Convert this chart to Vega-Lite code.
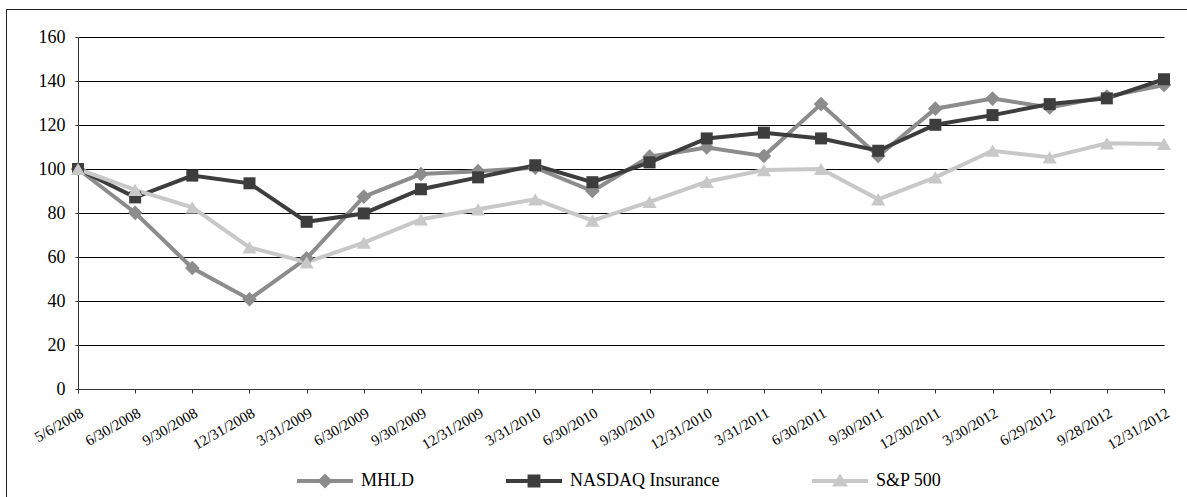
{
  "$schema": "https://vega.github.io/schema/vega-lite/v6.json",
  "width": 1181,
  "height": 488,
  "autosize": "none",
  "padding": {"left": 6, "top": 9, "right": 0, "bottom": 0},
  "background": "white",
  "config": {
    "view": {"stroke": "#222222", "strokeWidth": 1, "strokeDash": [1181, 1669, 488]},
    "font": "Liberation Serif, Times New Roman, DejaVu Serif, serif",
    "axis": {"labelFont": "Liberation Serif, Times New Roman, DejaVu Serif, serif", "labelColor": "#000000", "domainColor": "#333333", "tickColor": "#333333", "gridColor": "#000000", "gridOpacity": 1, "domainWidth": 1, "tickWidth": 1},
    "legend": {"labelFont": "Liberation Serif, Times New Roman, DejaVu Serif, serif"}
  },
  "data": {
    "values": [
      {"date": "5/6/2008", "series": "MHLD", "value": 100},
      {"date": "6/30/2008", "series": "MHLD", "value": 80.1},
      {"date": "9/30/2008", "series": "MHLD", "value": 55},
      {"date": "12/31/2008", "series": "MHLD", "value": 40.8},
      {"date": "3/31/2009", "series": "MHLD", "value": 59.4},
      {"date": "6/30/2009", "series": "MHLD", "value": 87.4},
      {"date": "9/30/2009", "series": "MHLD", "value": 97.7},
      {"date": "12/31/2009", "series": "MHLD", "value": 99},
      {"date": "3/31/2010", "series": "MHLD", "value": 100.6},
      {"date": "6/30/2010", "series": "MHLD", "value": 90},
      {"date": "9/30/2010", "series": "MHLD", "value": 105.6},
      {"date": "12/31/2010", "series": "MHLD", "value": 109.8},
      {"date": "3/31/2011", "series": "MHLD", "value": 105.9},
      {"date": "6/30/2011", "series": "MHLD", "value": 129.5},
      {"date": "9/30/2011", "series": "MHLD", "value": 105.9},
      {"date": "12/30/2011", "series": "MHLD", "value": 127.4},
      {"date": "3/30/2012", "series": "MHLD", "value": 132},
      {"date": "6/29/2012", "series": "MHLD", "value": 128},
      {"date": "9/28/2012", "series": "MHLD", "value": 132.9},
      {"date": "12/31/2012", "series": "MHLD", "value": 138.2},
      {"date": "5/6/2008", "series": "NASDAQ Insurance", "value": 100},
      {"date": "6/30/2008", "series": "NASDAQ Insurance", "value": 87.1},
      {"date": "9/30/2008", "series": "NASDAQ Insurance", "value": 97},
      {"date": "12/31/2008", "series": "NASDAQ Insurance", "value": 93.5},
      {"date": "3/31/2009", "series": "NASDAQ Insurance", "value": 76},
      {"date": "6/30/2009", "series": "NASDAQ Insurance", "value": 79.8},
      {"date": "9/30/2009", "series": "NASDAQ Insurance", "value": 90.8},
      {"date": "12/31/2009", "series": "NASDAQ Insurance", "value": 96.2},
      {"date": "3/31/2010", "series": "NASDAQ Insurance", "value": 101.7},
      {"date": "6/30/2010", "series": "NASDAQ Insurance", "value": 94},
      {"date": "9/30/2010", "series": "NASDAQ Insurance", "value": 103},
      {"date": "12/31/2010", "series": "NASDAQ Insurance", "value": 113.9},
      {"date": "3/31/2011", "series": "NASDAQ Insurance", "value": 116.5},
      {"date": "6/30/2011", "series": "NASDAQ Insurance", "value": 113.9},
      {"date": "9/30/2011", "series": "NASDAQ Insurance", "value": 108.3},
      {"date": "12/30/2011", "series": "NASDAQ Insurance", "value": 120.1},
      {"date": "3/30/2012", "series": "NASDAQ Insurance", "value": 124.5},
      {"date": "6/29/2012", "series": "NASDAQ Insurance", "value": 129.5},
      {"date": "9/28/2012", "series": "NASDAQ Insurance", "value": 132.1},
      {"date": "12/31/2012", "series": "NASDAQ Insurance", "value": 140.8},
      {"date": "5/6/2008", "series": "S&P 500", "value": 100},
      {"date": "6/30/2008", "series": "S&P 500", "value": 90.5},
      {"date": "9/30/2008", "series": "S&P 500", "value": 82.6},
      {"date": "12/31/2008", "series": "S&P 500", "value": 64.4},
      {"date": "3/31/2009", "series": "S&P 500", "value": 57.6},
      {"date": "6/30/2009", "series": "S&P 500", "value": 66.5},
      {"date": "9/30/2009", "series": "S&P 500", "value": 77.1},
      {"date": "12/31/2009", "series": "S&P 500", "value": 81.7},
      {"date": "3/31/2010", "series": "S&P 500", "value": 86.2},
      {"date": "6/30/2010", "series": "S&P 500", "value": 76.5},
      {"date": "9/30/2010", "series": "S&P 500", "value": 85.1},
      {"date": "12/31/2010", "series": "S&P 500", "value": 94.2},
      {"date": "3/31/2011", "series": "S&P 500", "value": 99.5},
      {"date": "6/30/2011", "series": "S&P 500", "value": 100},
      {"date": "9/30/2011", "series": "S&P 500", "value": 86.2},
      {"date": "12/30/2011", "series": "S&P 500", "value": 96.2},
      {"date": "3/30/2012", "series": "S&P 500", "value": 108.3},
      {"date": "6/29/2012", "series": "S&P 500", "value": 105.3},
      {"date": "9/28/2012", "series": "S&P 500", "value": 111.7},
      {"date": "12/31/2012", "series": "S&P 500", "value": 111.4}
    ]
  },
  "encoding": {
    "x": {
      "field": "date",
      "type": "ordinal",
      "scale": {
        "type": "point",
        "domain": ["5/6/2008", "6/30/2008", "9/30/2008", "12/31/2008", "3/31/2009", "6/30/2009", "9/30/2009", "12/31/2009", "3/31/2010", "6/30/2010", "9/30/2010", "12/31/2010", "3/31/2011", "6/30/2011", "9/30/2011", "12/30/2011", "3/30/2012", "6/29/2012", "9/28/2012", "12/31/2012"],
        "range": [72, 1158],
        "padding": 0
      },
      "axis": {"title": null, "labelAngle": -30, "labelAlign": "right", "labelBaseline": "top", "labelFontSize": 15, "tickSize": 4, "labelPadding": 12, "offset": -108, "grid": false, "labelOverlap": false, "labelBound": false}
    },
    "y": {
      "field": "value",
      "type": "quantitative",
      "scale": {"domain": [0, 160], "range": [380, 28], "nice": false, "zero": true},
      "axis": {"title": null, "values": [0, 20, 40, 60, 80, 100, 120, 140, 160], "labelFontSize": 18, "tickSize": 3, "labelPadding": 10, "offset": -72, "grid": true, "gridWidth": 1}
    }
  },
  "layer": [
    {
      "mark": {"type": "line", "strokeWidth": 4},
      "encoding": {
        "color": {
          "field": "series",
          "type": "nominal",
          "scale": {"domain": ["MHLD", "NASDAQ Insurance", "S&P 500"], "range": ["#8c8c8c", "#3d3d3d", "#c8c8c8"]},
          "legend": {
            "title": null,
            "orient": "none",
            "legendX": 291,
            "legendY": 444,
            "direction": "horizontal",
            "symbolSize": 3136,
            "labelOffset": 8,
            "columnPadding": 92,
            "labelFontSize": 18,
            "labelColor": "#000000",
            "labelLimit": 400,
            "padding": 0,
            "encode": {
              "symbols": {
                "update": {
                  "shape": {"signal": "datum.value === 'MHLD' ? 'M-1,-0.07L1,-0.07L1,0.07L-1,0.07Z M0,-0.27L0.27,0L0,0.27L-0.27,0Z' : datum.value === 'NASDAQ Insurance' ? 'M-1,-0.07L1,-0.07L1,0.07L-1,0.07Z M-0.23,-0.23L0.23,-0.23L0.23,0.23L-0.23,0.23Z' : 'M-1,-0.07L1,-0.07L1,0.07L-1,0.07Z M0,-0.27L0.29,0.2L-0.29,0.2Z'"},
                  "size": {"value": 3136},
                  "fill": {"scale": "color", "field": "value"},
                  "stroke": {"value": "transparent"},
                  "strokeWidth": {"value": 0},
                  "opacity": {"value": 1},
                  "fillOpacity": {"value": 1}
                }
              }
            }
          }
        }
      }
    },
    {
      "transform": [{"filter": "datum.series === 'MHLD'"}],
      "mark": {"type": "point", "filled": true, "opacity": 1, "shape": "diamond", "size": 216, "color": "#8c8c8c"},
      "encoding": {}
    },
    {
      "transform": [{"filter": "datum.series === 'NASDAQ Insurance'"}],
      "mark": {"type": "point", "filled": true, "opacity": 1, "shape": "square", "size": 144, "color": "#3d3d3d"},
      "encoding": {}
    },
    {
      "transform": [{"filter": "datum.series === 'S&P 500'"}],
      "mark": {"type": "point", "filled": true, "opacity": 1, "shape": "triangle-up", "size": 200, "color": "#c8c8c8"},
      "encoding": {}
    }
  ]
}
